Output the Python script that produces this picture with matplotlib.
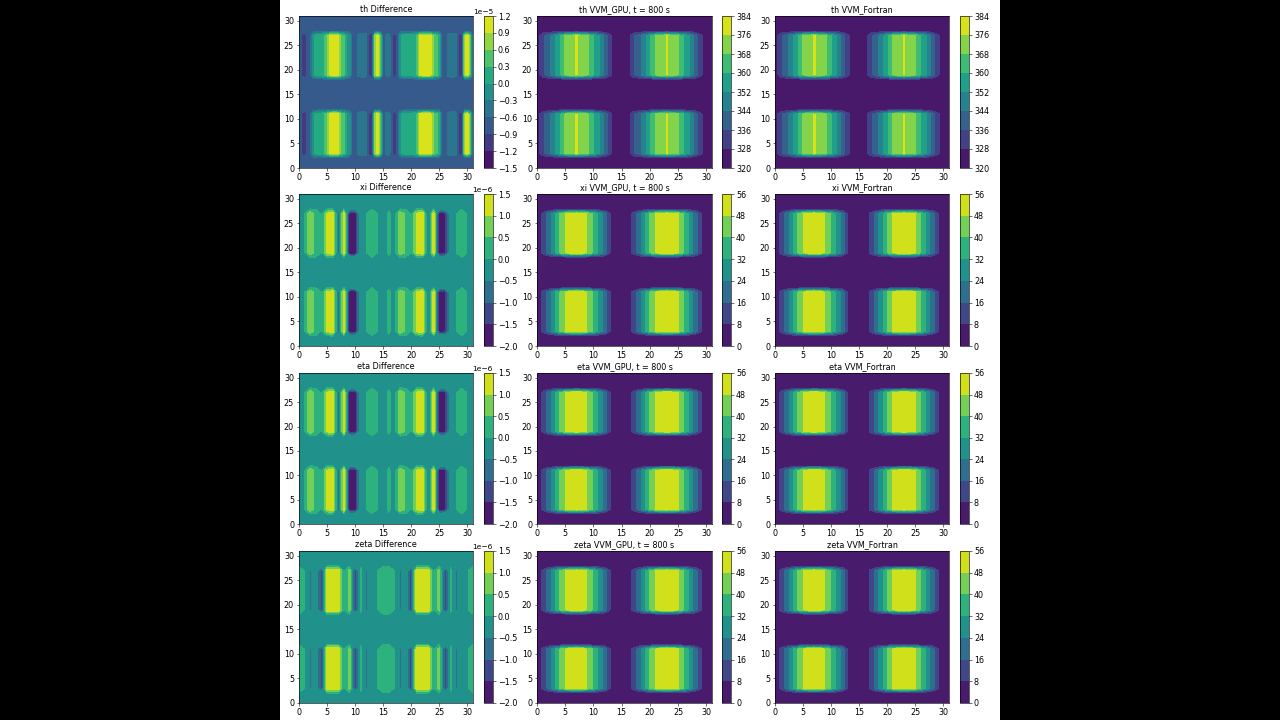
import numpy as np
import matplotlib
matplotlib.use("Agg")
import matplotlib.pyplot as plt
from matplotlib.patches import Rectangle

x_coarse = list(range(32))
x_fine = [i * 0.5 for i in range(63)]
y_grid = list(range(32))
# vertical envelope (1 inside the blocks, 0 outside)
y_envelope = [0,0,0,1,1,1,1,1,1,1,1,1,0,0,0,0,0,0,0,1,1,1,1,1,1,1,1,1,0,0,0,0]

th_diff_bg = -0.75
th_diff = [-0.5,-0.95,-1.1,-0.85,-0.7,-0.15,0.1,0.15,0.2,0.28,0.55,0.95,1.1,1.1,1.0,0.5,
           0.35,0.0,-0.2,-0.7,-0.75,-0.55,-0.45,-0.45,-0.5,-0.95,-1.15,0.7,1.1,0.4,-0.75,-0.55,
           -0.45,-0.8,-1.1,-0.85,-0.2,0.1,0.15,0.2,0.2,0.25,0.3,0.92,1.05,1.1,1.1,0.95,
           0.55,0.4,0.2,-0.7,-0.75,-0.55,-0.45,-0.45,-0.5,-0.95,-1.15,0.7,1.1,0.3,-0.75]
xi_diff_bg = -0.05
xi_diff = [-0.05,-0.02,0.9,0.3,-0.05,1.05,1.45,-0.9,1.3,-1.95,-1.95,-0.05,-0.02,0.4,-0.02,-0.25,
           0.08,-0.25,0.9,0.4,-0.05,1.1,1.45,-0.8,1.3,-1.9,-1.7,-0.05,-0.02,0.4,-0.05,-0.05]
eta_diff_bg = -0.05
eta_diff = list(xi_diff)
zeta_diff_bg = -0.05
zeta_diff = [0.3,-0.02,-0.6,-0.05,-1.3,1.45,1.45,1.45,-0.05,0.7,-1.3,0.1,-0.6,-0.05,-0.02,0.4,
             0.4,-0.02,-0.6,-0.05,-1.3,1.45,1.45,1.45,-0.05,0.7,-1.3,0.1,-0.6,-0.05,-0.05,0.3]

th_state_bg = 322
th_state = [322,334,340,349,358,369,373,376.5,373,369,360,352,341,330,322,322,
            322,334,340,349,358,369,373,376.5,373,369,360,352,341,330,322,322]
wind_state_bg = 1
xi_state = [1,10,19,29,40,48,53,55,53,47,39,30,20,8,1,1,
            1,10,19,29,40,48,53,55,53,49,40,30,20,9,1,1]
eta_state = list(xi_state)
zeta_state = list(xi_state)

th_diff_levels = [-1.5,-1.2,-0.9,-0.6,-0.3,0.0,0.3,0.6,0.9,1.2]
wind_diff_levels = [-2.0,-1.5,-1.0,-0.5,0.0,0.5,1.0,1.5]
th_state_levels = [320,328,336,344,352,360,368,376,384]
wind_state_levels = [0,8,16,24,32,40,48,56]

rows = [
    ("th", x_fine, th_diff, th_diff_bg, 1e-5, th_diff_levels, th_state, th_state_bg, th_state_levels),
    ("xi", x_coarse, xi_diff, xi_diff_bg, 1e-6, wind_diff_levels, xi_state, wind_state_bg, wind_state_levels),
    ("eta", x_coarse, eta_diff, eta_diff_bg, 1e-6, wind_diff_levels, eta_state, wind_state_bg, wind_state_levels),
    ("zeta", x_coarse, zeta_diff, zeta_diff_bg, 1e-6, wind_diff_levels, zeta_state, wind_state_bg, wind_state_levels),
]

W, H = 1280, 720
FS = 5.8
row_px = [(16, 168), (194, 346), (373, 524), (551, 703)]
col_px = [(299, 473, 484, 493), (537, 712, 722, 731), (775, 949, 960, 969)]

fig = plt.figure(figsize=(W / 100, H / 100), dpi=100, facecolor="black")
fig.add_artist(Rectangle((280 / W, 0), 720 / W, 1, transform=fig.transFigure,
                         facecolor="white", edgecolor="none", zorder=-10))


def panel(title, xs, profile, bg, scale, levels, col, row):
    x0, x1, c0, c1 = col_px[col]
    top, bot = row_px[row]
    ax = fig.add_axes([x0 / W, 1 - bot / H, (x1 - x0) / W, (bot - top) / H])
    cax = fig.add_axes([c0 / W, 1 - bot / H, (c1 - c0) / W, (bot - top) / H])
    env = np.array(y_envelope, float)[:, None]
    prof = np.array(profile, float)[None, :]
    field = (bg + (prof - bg) * env) * scale
    lv = np.array(levels, float) * scale
    cs = ax.contourf(xs, y_grid, field, levels=lv, cmap="viridis")
    ax.set_title(title, fontsize=FS, pad=2.6)
    ax.set_xticks(range(0, 31, 5))
    ax.set_yticks(range(0, 31, 5))
    ax.tick_params(labelsize=FS, length=1.8, width=0.4, pad=1.8)
    for s in ax.spines.values():
        s.set_linewidth(0.45)
    cb = fig.colorbar(cs, cax=cax)
    cb.set_ticks(lv)
    cb.ax.tick_params(labelsize=FS, length=1.8, width=0.4, pad=1.8)
    cb.outline.set_linewidth(0.45)
    off = cb.ax.yaxis.get_offset_text()
    off.set_fontsize(FS - 0.4)
    off.set_verticalalignment("center")


for r, (name, dx, dprof, dbg, dscale, dlev, sprof, sbg, slev) in enumerate(rows):
    panel(f"{name} Difference", dx, dprof, dbg, dscale, dlev, 0, r)
    panel(f"{name} VVM_GPU, t = 800 s", x_coarse, sprof, sbg, 1, slev, 1, r)
    panel(f"{name} VVM_Fortran", x_coarse, sprof, sbg, 1, slev, 2, r)

fig.savefig("out.png", dpi=100, facecolor="black")
